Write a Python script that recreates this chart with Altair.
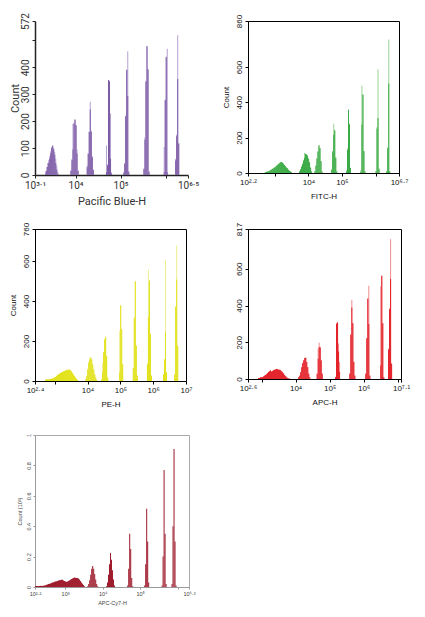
import altair as alt
import pandas as pd

# ---------------- Panel 1: Pacific Blue-H ----------------
PB_BIN = 0.0225
PB_STARTS = [3.325, 3.888, 4.249, 4.677, 5.06, 5.51, 5.96, 6.215]
PB_DARK = [
    [5, 15, 30, 45, 60, 80, 100, 110, 95, 75, 45, 20, 5],
    [15, 55, 95, 190, 205, 185, 80, 15],
    [29, 79, 160, 243, 160, 66, 19],
    [10, 35, 353, 347, 60, 5],
    [6, 41, 218, 390, 293, 10],
    [22, 131, 347, 478, 391, 10],
    [10, 278, 437, 10],
    [54, 144, 357, 116],
]
PB_LIGHT = [
    [15, 30, 45, 55, 70, 88, 105, 108, 100, 85, 60, 35, 12],
    [18, 60, 190, 195, 207, 185, 95, 18],
    [35, 80, 162, 272, 165, 70, 20],
    [110, 40, 353, 350, 228, 10],
    [10, 45, 220, 392, 460, 15],
    [25, 140, 350, 478, 395, 15],
    [104, 280, 440, 469],
    [60, 150, 519, 120],
]

# ---------------- Panel 2: FITC-H ----------------
FI_BIN = 0.030
FI_STARTS = [2.70, 3.72, 4.18, 4.68, 5.12, 5.55, 6.00, 6.32]
FI_DARK = [
    [4, 6, 8, 10, 12, 15, 18, 22, 26, 30, 34, 40, 45, 50, 55, 60, 62, 58, 52, 45, 38, 30, 25, 18, 12, 8, 4],
    [9, 20, 35, 50, 70, 85, 108, 104, 98, 80, 60, 30, 8],
    [9, 40, 80, 120, 155, 140, 66, 9],
    [19, 120, 215, 240, 85, 9],
    [9, 130, 358, 274, 28],
    [9, 274, 443, 123, 9],
    [9, 250, 311, 20],
    [9, 141, 506, 9],
]
FI_LIGHT = [
    [5, 7, 9, 11, 13, 16, 20, 24, 28, 32, 36, 42, 47, 52, 57, 62, 64, 60, 54, 47, 40, 32, 27, 20, 14, 9, 5],
    [10, 22, 38, 55, 75, 113, 110, 104, 99, 82, 62, 32, 9],
    [10, 45, 85, 125, 158, 142, 68, 10],
    [20, 125, 279, 245, 90, 10],
    [15, 140, 358, 280, 30],
    [15, 494, 445, 125, 10],
    [10, 260, 585, 30],
    [10, 145, 755, 10],
]

# ---------------- Panel 3: PE-H ----------------
PE_BIN = 0.0305
PE_STARTS = [2.705, 3.93, 4.415, 4.964, 5.38, 5.81, 6.30, 6.64]
PE_DARK = [
    [6, 7, 7, 8, 8, 10, 11, 12, 15, 18, 20, 25, 30, 33, 36, 40, 43, 45, 48, 50, 52, 55, 54, 58, 56, 52, 48, 40, 32, 25, 17, 10, 5],
    [8, 25, 58, 92, 108, 117, 108, 83, 58, 33, 17, 5],
    [8, 42, 142, 208, 220, 125, 17],
    [42, 378, 258, 83],
    [62, 312, 497, 175, 25],
    [83, 320, 500, 233, 25],
    [33, 108, 242, 42],
    [33, 370, 508, 175],
]
PE_LIGHT = [
    [7, 8, 8, 9, 9, 11, 12, 13, 16, 19, 21, 26, 31, 34, 37, 41, 44, 46, 49, 51, 53, 56, 55, 59, 57, 53, 49, 41, 33, 26, 18, 11, 6],
    [9, 26, 60, 95, 112, 120, 110, 85, 60, 35, 18, 6],
    [10, 90, 145, 210, 222, 128, 18],
    [250, 380, 260, 85],
    [65, 320, 500, 180, 30],
    [90, 558, 505, 240, 30],
    [35, 110, 603, 45],
    [35, 375, 678, 180],
]

# ---------------- Panel 4: APC-H ----------------
AP_BIN = 0.0295
AP_STARTS = [2.895, 4.077, 4.62, 5.16, 5.58, 6.05, 6.49, 6.72]
AP_DARK = [
    [5, 6, 8, 9, 10, 14, 18, 22, 26, 32, 38, 42, 46, 40, 44, 48, 50, 52, 55, 53, 51, 50, 47, 42, 37, 30, 22, 16, 10, 6, 3, 2],
    [9, 18, 37, 64, 86, 101, 114, 116, 92, 64, 28, 9],
    [28, 110, 174, 170, 101, 28],
    [9, 300, 308, 150, 40],
    [28, 239, 389, 303, 92, 18],
    [28, 220, 437, 300, 18],
    [73, 563, 303, 9],
    [160, 380, 545, 83],
]
AP_LIGHT = [
    [6, 7, 9, 10, 11, 15, 19, 23, 27, 33, 39, 43, 47, 42, 45, 49, 51, 53, 56, 54, 52, 51, 48, 43, 38, 31, 23, 17, 11, 7, 4, 3],
    [10, 19, 38, 65, 88, 103, 115, 117, 94, 65, 30, 10],
    [30, 165, 198, 175, 105, 30],
    [12, 305, 310, 193, 92],
    [30, 245, 431, 305, 95, 20],
    [30, 225, 440, 508, 20],
    [505, 563, 305, 10],
    [165, 385, 761, 85],
]

# ---------------- Panel 5: APC-Cy7-H (counts in 10^3) ----------------
CY_BIN = 0.0266
CY_STARTS = [2.20, 3.59, 4.09, 4.655, 5.107, 5.57, 5.835]
CY_DARK = [
    [.007, .006, .007, .006, .007, .008, .007, .008, .009, .010, .011, .014, .017, .019, .021, .023, .026,
     .030, .032, .035, .036, .038, .040, .043, .045, .046, .048, .047, .043, .040, .037, .035, .036, .040,
     .044, .047, .052, .056, .060, .062, .061, .060, .059, .056, .050, .040, .030, .022, .013, .005],
    [.005, .020, .045, .080, .120, .138, .120, .085, .050, .020, .005],
    [.005, .030, .080, .150, .223, .180, .110, .050, .010],
    [.010, .120, .350, .250, .060, .005],
    [.010, .150, .514, .300, .030],
    [.010, .200, .770, .350, .020],
    [.020, .400, .908, .300, .010],
]


def hist_df(starts, dark, light, bw):
    rows = []
    for s, d, l in zip(starts, dark, light):
        for i, (dv, lv) in enumerate(zip(d, l)):
            x0 = s + i * bw
            rows.append({"x": x0, "x2": x0 + bw, "dark": dv, "light": lv})
    return pd.DataFrame(rows)


def lab_expr(vals, labels):
    expr = "''"
    for v, l in reversed(list(zip(vals, labels))):
        expr = f"abs(datum.value - ({v})) < 1e-6 ? '{l}' : ({expr})"
    return expr


def panel(df, color, light_color, xdom, ymax, xticks, xlabels, yticks, ylabels,
          xtitle, ytitle, w, h, font, lfs, tfs, acol, lcol, stroke, dwidth,
          tick=3, lpad=2, xtpad=4, ytpad=4):
    xsc = alt.Scale(domain=xdom, nice=False, zero=False)
    ysc = alt.Scale(domain=[0, ymax], nice=False)
    common = dict(grid=False, labelFont=font, labelFontSize=lfs, titleFont=font,
                  titleFontSize=tfs, titleFontWeight="normal", labelColor=lcol,
                  titleColor=lcol, domainColor=acol, tickColor=acol, tickSize=tick,
                  domainWidth=dwidth, tickWidth=1, labelPadding=lpad, labelFlush=False,
                  labelOverlap=False)
    xaxis = alt.Axis(values=xticks, labelExpr=lab_expr(xticks, xlabels), title=xtitle,
                     titlePadding=xtpad, **common)
    yaxis = alt.Axis(values=yticks, labelExpr=lab_expr(yticks, ylabels), title=ytitle,
                     labelAngle=270, labelBaseline="bottom", labelAlign="center",
                     titlePadding=ytpad, **common)
    base = alt.Chart(df)
    layers = []
    if light_color is not None:
        layers.append(base.mark_bar(color=light_color, strokeWidth=0).encode(
            x=alt.X("x:Q", scale=xsc, axis=xaxis), x2="x2:Q",
            y=alt.Y("light:Q", scale=ysc, axis=yaxis), y2=alt.datum(0)))
    layers.append(base.mark_bar(color=color, strokeWidth=0).encode(
        x=alt.X("x:Q", scale=xsc, axis=xaxis), x2="x2:Q",
        y=alt.Y("dark:Q", scale=ysc, axis=yaxis), y2=alt.datum(0)))
    return alt.layer(*layers).properties(
        width=w, height=h,
        view=alt.ViewBackground(stroke=stroke if stroke else "transparent", strokeWidth=1))


p1 = panel(hist_df(PB_STARTS, PB_DARK, PB_LIGHT, PB_BIN), "#7d5ca6", "#b7a2d2",
           [3.1, 6.5], 572, [3.1, 4, 5, 6, 6.5], ["10³·¹", "10⁴", "10⁵", "", "10⁶·⁵"],
           [0, 100, 200, 300, 400, 500, 572], ["0", "100", "200", "300", "400", "", "572"],
           "Pacific Blue-H", "Count", 153, 154, "Roboto", 10, 11, "#222", "#333", None, 1.5,
           tick=3, lpad=2, xtpad=5, ytpad=0)

p2 = panel(hist_df(FI_STARTS, FI_DARK, FI_LIGHT, FI_BIN), "#3aab46", "#9ad394",
           [2.2, 6.7], 860, [2.2, 3, 4, 5, 6, 6.7], ["10²·²", "", "10⁴", "10⁵", "", "10⁶·⁷"],
           [0, 200, 400, 600, 860], ["0", "200", "400", "600", "860"],
           "FITC-H", "Count", 151, 152, "Liberation Sans", 8, 8, "#000", "#111", "#000", 1,
           tick=3, lpad=2, xtpad=6, ytpad=5)

p3 = panel(hist_df(PE_STARTS, PE_DARK, PE_LIGHT, PE_BIN), "#e2e21c", "#eeee8c",
           [2.4, 7.0], 760, [2.4, 3, 4, 5, 6, 7], ["10²·⁴", "", "10⁴", "10⁵", "10⁶", "10⁷"],
           [0, 200, 400, 600, 760], ["0", "200", "400", "600", "760"],
           "PE-H", "Count", 151, 152, "Liberation Sans", 8, 8, "#000", "#111", "#000", 1,
           tick=3, lpad=2, xtpad=6, ytpad=5)

p4 = panel(hist_df(AP_STARTS, AP_DARK, AP_LIGHT, AP_BIN), "#e31e26", "#f28c8e",
           [2.6, 7.1], 817, [2.6, 3, 4, 5, 6, 7, 7.1], ["10²·⁶", "", "10⁴", "10⁵", "10⁶", "", "10⁷·¹"],
           [0, 200, 400, 600, 817], ["0", "200", "400", "600", "817"],
           "APC-H", "", 153, 150, "Liberation Sans", 8, 8, "#000", "#111", "#000", 1,
           tick=3, lpad=2, xtpad=6, ytpad=5)

p5 = panel(hist_df(CY_STARTS, CY_DARK, CY_DARK, CY_BIN), "#9e1a2b", None,
           [2.2, 6.3], 1.0, [2.2, 3, 4, 5, 6, 6.3], ["10²·²", "10³", "10⁴", "10⁵", "", "10⁶·³"],
           [0, 0.2, 0.4, 0.6, 0.8, 1.0], ["0", "0.2", "0.4", "0.6", "0.8", "1"],
           "APC-Cy7-H", "Count (10³)", 154, 152, "Liberation Sans", 5.5, 5.5, "#999", "#444", "#aaa", 1,
           tick=2, lpad=2, xtpad=4, ytpad=4)

chart = alt.concat(p1, p2, p3, p4, p5, columns=2, bounds="flush",
                   spacing={"row": 54, "column": 59}).properties(
    padding={"left": 0, "top": 4, "right": 0, "bottom": 0},
    background="white",
)

chart.save("out.html", embed_options={"renderer": "svg", "actions": False})
